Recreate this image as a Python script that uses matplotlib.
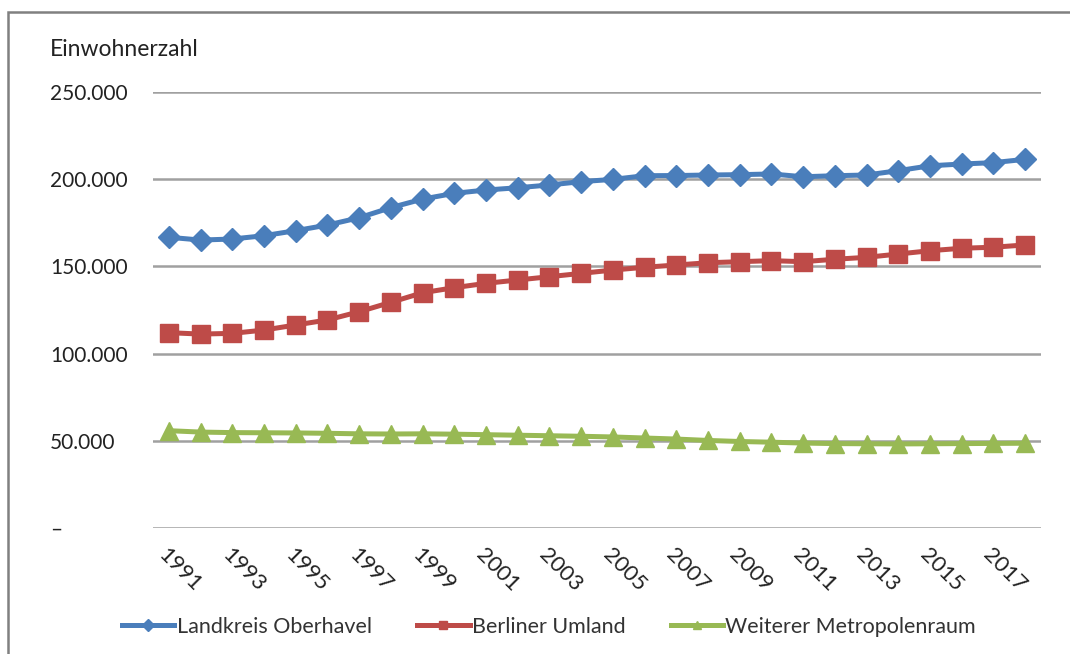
import numpy as np
import matplotlib
matplotlib.use('Agg')
import matplotlib.pyplot as plt
from matplotlib.patches import Rectangle
from matplotlib.ticker import FuncFormatter

plt.rcParams['font.family'] = ['Lato', 'DejaVu Sans']

# ── Data ───────────────────────────────────────────────────────
years = list(range(1991, 2019))
oberhavel = [166700, 165100, 165700, 167600, 170500, 173700, 177900, 183700,
             188600, 191900, 193800, 195100, 196700, 198600, 199900, 202000,
             202100, 202400, 202600, 203000, 201400, 202000, 202400, 204900,
             207700, 208700, 209500, 211400]
umland = [112000, 111200, 111600, 113500, 116400, 119300, 124000, 129400,
          134900, 137800, 140300, 142200, 144100, 146000, 147900, 149500,
          150800, 152100, 152700, 153300, 152700, 154100, 155200, 157100,
          159000, 160400, 161000, 162300]
metropolenraum = [55800, 55000, 54700, 54600, 54500, 54300, 54000, 53900,
                  54000, 53800, 53500, 53200, 52900, 52600, 52200, 51600,
                  51000, 50200, 49600, 49200, 48700, 48400, 48300, 48200,
                  48300, 48400, 48500, 48600]
series_labels = ['Landkreis Oberhavel', 'Berliner Umland',
                 'Weiterer Metropolenraum']
colors = ['#4A7EBB', '#BE4B48', '#98B954']
markers = ['D', 's', '^']
marker_sizes = [11.5, 12.5, 12.5]
y_ticks = [0, 50000, 100000, 150000, 200000, 250000]


def de_thousands(v, _pos):
    if v == 0:
        return '\u2013'
    return f'{int(v):,}'.replace(',', '.')


fig = plt.figure(figsize=(10.7, 6.54), dpi=100)
fig.patch.set_facecolor('white')
# chart frame (only left and top edges fall inside the canvas)
fig.patches.append(Rectangle((8 / 1070, -0.1), 1.2, 1 - 12 / 654 + 0.1,
                             transform=fig.transFigure, fill=False,
                             edgecolor='#808080', linewidth=1.8))

ax = fig.add_axes([153 / 1070, 1 - 528 / 654, 888 / 1070, (528 - 92) / 654])

x = np.arange(len(years))
for vals, lab, c, m, ms in zip([oberhavel, umland, metropolenraum],
                               series_labels, colors, markers, marker_sizes):
    ax.plot(x, vals, color=c, linewidth=3.6, marker=m, markersize=ms,
            markeredgecolor=c, label=lab, zorder=3)

ax.set_xlim(-0.5, len(years) - 0.5)
ax.set_ylim(0, 250000)
ax.set_yticks(y_ticks)
ax.yaxis.set_major_formatter(FuncFormatter(de_thousands))
ax.grid(axis='y', color='#A0A0A0', linewidth=1.8)
ax.set_axisbelow(True)
for s in ax.spines.values():
    s.set_visible(False)
ax.tick_params(axis='y', length=0, pad=74, labelsize=15, labelcolor='#222222')
for t in ax.get_yticklabels():
    t.set_horizontalalignment('left')

ax.set_xticks(x[::2])
ax.set_xticklabels([str(y) for y in years[::2]], rotation=-45,
                   ha='left', va='top', rotation_mode='anchor',
                   fontsize=16, color='#222222')
ax.tick_params(axis='x', length=0, pad=12)

fig.text(50 / 1070, 1 - 50 / 654, 'Einwohnerzahl', fontsize=16.5,
         color='#222222', ha='left', va='center')

leg = fig.legend(loc='center', bbox_to_anchor=(0.513, 1 - 627 / 654), ncol=3,
                 frameon=False, fontsize=15.5, handlelength=2.45,
                 columnspacing=2.1, handletextpad=0.1, markerscale=0.5)
for t in leg.get_texts():
    t.set_color('#333333')

fig.savefig('out.png', dpi=100, facecolor='white')
